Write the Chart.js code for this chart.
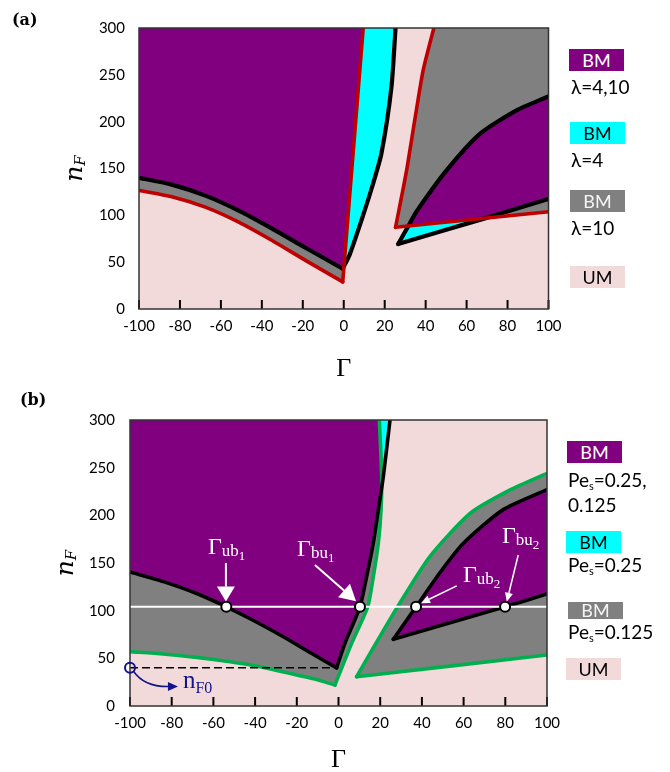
<!DOCTYPE html>
<html>
<head>
<meta charset="utf-8">
<script src="https://cdn.jsdelivr.net/npm/chart.js@4.4.1/dist/chart.umd.min.js"></script>
<style>
body { margin: 0; background: #fff; width: 670px; height: 772px; position: relative; overflow: hidden; font-family: Lato, sans-serif; }
canvas { position: absolute; left: 0; }
#ca { top: 0; }
#cb { top: 386px; }
.key { position: absolute; width: 55px; height: 22px; line-height: 22px; font-size: 18px; text-align: center; }
.lab { position: absolute; font-size: 19px; line-height: 22px; color: #000; white-space: nowrap; }
.lab sub { font-size: 11px; vertical-align: -3px; }
</style>
</head>
<body>
<canvas id="ca" width="670" height="386"></canvas>
<canvas id="cb" width="670" height="386"></canvas>

<div class="key" style="left:569px;top:49px;background:#800080;color:#fff">BM</div>
<div class="lab" style="left:571px;top:76px">λ=4,10</div>
<div class="key" style="left:570px;top:122px;background:#00ffff;color:#000">BM</div>
<div class="lab" style="left:571px;top:149px">λ=4</div>
<div class="key" style="left:570px;top:190px;background:#808080;color:#f4f4f4">BM</div>
<div class="lab" style="left:571px;top:217px">λ=10</div>
<div class="key" style="left:570px;top:266px;background:#f3dada;color:#000">UM</div>

<div class="key" style="left:567px;top:441px;background:#800080;color:#fff">BM</div>
<div class="lab" style="left:568px;top:469px">Pe<sub>s</sub>=0.25,</div>
<div class="lab" style="left:568px;top:494px">0.125</div>
<div class="key" style="left:566px;top:531px;background:#00ffff;color:#000">BM</div>
<div class="lab" style="left:568px;top:554px">Pe<sub>s</sub>=0.25</div>
<div class="key" style="left:568px;top:602px;height:17px;line-height:17px;background:#808080;color:#f4f4f4">BM</div>
<div class="lab" style="left:568px;top:621px">Pe<sub>s</sub>=0.125</div>
<div class="key" style="left:566px;top:658px;background:#f3dada;color:#000">UM</div>

<script>
// axis ticks (both panels)
const xTicks = [-100, -80, -60, -40, -20, 0, 20, 40, 60, 80, 100];
const yTicks = [0, 50, 100, 150, 200, 250, 300];

// panel (a): boundary curves, points are [Γ, nF]
const aBlackLeft = [[-100, 140], [-84, 132.8], [-67.6, 121], [-51.3, 105], [-35, 85.8], [-18.7, 65.4], [-0.5, 43]];
const aBlackRight = [[-0.5, 43], [2.9, 58], [8.7, 95], [13.8, 130], [18.4, 166], [23.3, 237], [25.3, 300]];
const aRedLeft = [[-100, 126.5], [-84, 119.8], [-67.6, 108.7], [-51.3, 92.7], [-35, 73.1], [-18.7, 51.9], [-0.5, 29]];
const aRedRight = [[-0.5, 29], [9.5, 300]];
const aRedWedge = [[44, 300], [38.8, 255], [34.7, 202], [30.7, 148], [25.3, 87.2]];
const aRedFloor = [[25.3, 87.2], [100, 103.8]];
const aLensTop = [[26.6, 69.4], [31.5, 88.5], [35.5, 104], [50.2, 148], [66.5, 187], [84.4, 212], [100, 227]];
const aLensBottom = [[26.6, 69.4], [68.5, 96.5], [100, 117.4]];

// panel (b)
const bBlackLeft = [[-100, 140.6], [-84, 130.5], [-68, 118], [-53.8, 104], [-42.4, 91.5], [-28, 74.5], [-12, 54], [-0.9, 40]];
const bBlackRight = [[-0.9, 40], [3.1, 65.8], [10.3, 104], [13.5, 135.7], [16.7, 170.7], [19.1, 205.7], [21.5, 240.6], [24.7, 300]];
const bGreenLeft = [[-100, 57], [-84, 54.6], [-68, 51], [-52, 46.5], [-42, 43], [-28, 36.5], [-12, 28.5], [-1.7, 22]];
const bGreenRight = [[-1.7, 22], [6.3, 65.8], [14, 104], [16.7, 135.7], [19.1, 170.7], [20.4, 205.7], [20.7, 240.6], [19.6, 300]];
const bCross = [20.6, 227];
const bGreenUpper = [[8.7, 30.7], [18, 66], [28.3, 104], [43.9, 157], [63.1, 202], [82.3, 226.7], [100, 244]];
const bGreenLower = [[8.7, 30.7], [100, 53.5]];
const bLensTop = [[26.3, 70], [37.2, 104], [48.7, 140], [59.9, 170.7], [79, 206], [100, 227]];
const bLensBottom = [[26.3, 70], [79.9, 104], [100, 117.5]];
const bLevel = 104;   // white line
const bNF0 = 40;      // dashed line / n_F0
const bCircles = [[-53.8, 104], [10.3, 104], [37.2, 104], [79.9, 104]];

// Γ labels with arrows (data coords)
const bNotes = [
  { sub: 'ub', idx: '1', at: [-62.6, 159.5], from: [-54, 150], to: [-54, 109.5], head: [15, 9], w: 2 },
  { sub: 'bu', idx: '1', at: [-19.9, 157.4], from: [-11.3, 148], to: [8.4, 110], head: [16, 9], w: 2 },
  { sub: 'ub', idx: '2', at: [59.7, 130], from: [56.7, 126], to: [39.6, 107.8], head: [9, 4], w: 1.5 },
  { sub: 'bu', idx: '2', at: [78.4, 171], from: [86.2, 158.4], to: [80.7, 109.4], head: [9, 4], w: 1.5 }
];

const pink = '#f3dada', purple = '#800080', cyan = '#00ffff', gray = '#808080';
const red = '#c00000', green = '#00b050', navy = '#12128c';

const pts = arr => arr.map(p => ({ x: p[0], y: p[1] }));
const rev = arr => arr.slice().reverse();

function area(points, color) {
    return { data: pts(points), fill: 'shape', backgroundColor: color, borderColor: 'transparent', borderWidth: 0, pointRadius: 0, tension: 0 };
}
// one smooth boundary arm
function stroke(points, color, width) {
    return { data: pts(points), fill: false, borderColor: color, borderWidth: width, borderCapStyle: 'round', borderJoinStyle: 'round', pointRadius: 0, tension: 0.22, clip: 0 };
}
function dashed(points, color, width, dash) {
    return { data: pts(points), fill: false, borderColor: color, borderWidth: width, borderDash: dash, pointRadius: 0, tension: 0 };
}
// first item = bottom layer
function layers(list) {
    list.forEach((d, i) => { d.order = list.length - i; });
    return list;
}

const aData = layers([
    area(aRedLeft.concat(aRedRight.slice(1), [[-100, 300]]), gray),
    area(aBlackLeft.concat([aRedRight[1], [-100, 300]]), purple),
    area(aRedRight.concat(rev(aBlackRight)), cyan),
    area(aRedWedge.concat(aRedFloor.slice(1), [[100, 300]]), gray),
    area(aLensTop.concat(rev(aLensBottom)), purple),
    area([aLensTop[0], aLensTop[1], aLensBottom[1]], cyan),
    stroke(aBlackLeft, '#000', 4.2),
    stroke(aBlackRight, '#000', 4.2),
    stroke(aLensTop, '#000', 4.2),
    stroke(aLensBottom, '#000', 4.2),
    stroke(aRedLeft, red, 3.6),
    stroke(aRedRight, red, 3.6),
    stroke(aRedWedge, red, 3.6),
    stroke(aRedFloor, red, 3.6)
]);

const bData = layers([
    area(bGreenLeft.concat(bGreenRight.slice(1), [[-100, 300]]), gray),
    area(bBlackLeft.concat(bBlackRight.slice(1).filter(p => p[1] < bCross[1]), [bCross],
        bGreenRight.filter(p => p[1] > bCross[1]), [[-100, 300]]), purple),
    area([bCross].concat(bGreenRight.filter(p => p[1] > bCross[1]),
        rev(bBlackRight.filter(p => p[1] > bCross[1]))), cyan),
    area(bGreenUpper.concat(rev(bGreenLower)), gray),
    area(bLensTop.concat(rev(bLensBottom)), purple),
    stroke(bGreenLeft, green, 3.6),
    stroke(bGreenRight, green, 3.6),
    stroke(bGreenUpper, green, 3.6),
    stroke(bGreenLower, green, 3.6),
    stroke(bBlackLeft, '#000', 3.6),
    stroke(bBlackRight, '#000', 3.6),
    stroke(bLensTop, '#000', 3.6),
    stroke(bLensBottom, '#000', 3.6),
    dashed([[-100, bNF0], [bBlackLeft[bBlackLeft.length - 1][0], bNF0]], '#000', 1.5, [8, 4]),
    dashed([[-100, bLevel], [100, bLevel]], '#fff', 2, []),
    { data: pts(bCircles), showLine: false, pointRadius: 5, pointBackgroundColor: '#fff', pointBorderColor: '#000', pointBorderWidth: 2 }
]);

// pink background, inner x ticks and frame
const frame = {
    id: 'frame',
    beforeDatasetsDraw(chart) {
        const { ctx, chartArea: a } = chart;
        ctx.save();
        ctx.fillStyle = pink;
        ctx.fillRect(a.left, a.top, a.right - a.left, a.bottom - a.top);
        ctx.restore();
    },
    afterDatasetsDraw(chart) {
        const { ctx, chartArea: a, scales: { x } } = chart;
        ctx.save();
        ctx.strokeStyle = '#000';
        ctx.lineWidth = 2;
        xTicks.forEach(v => {
            const px = x.getPixelForValue(v);
            ctx.beginPath();
            ctx.moveTo(px, a.bottom);
            ctx.lineTo(px, a.bottom - 9);
            ctx.stroke();
        });
        ctx.strokeStyle = '#333';
        ctx.lineWidth = 1.5;
        ctx.strokeRect(a.left, a.top, a.right - a.left, a.bottom - a.top);
        ctx.restore();
    }
};

function drawParts(ctx, x, y, parts) {
    parts.forEach(([t, font, dy]) => {
        ctx.font = font;
        ctx.fillText(t, x, y + dy);
        x += ctx.measureText(t).width;
    });
}

function arrow(ctx, x1, y1, x2, y2, len, half, w) {
    const ang = Math.atan2(y2 - y1, x2 - x1);
    const bx = x2 - len * Math.cos(ang), by = y2 - len * Math.sin(ang);
    ctx.lineWidth = w;
    ctx.beginPath();
    ctx.moveTo(x1, y1);
    ctx.lineTo(bx, by);
    ctx.stroke();
    ctx.beginPath();
    ctx.moveTo(x2, y2);
    ctx.lineTo(bx + half * Math.sin(ang), by - half * Math.cos(ang));
    ctx.lineTo(bx - half * Math.sin(ang), by + half * Math.cos(ang));
    ctx.closePath();
    ctx.fill();
}

function titles(letter, letterPos, xTitleDy, yTitleX, extra) {
    return {
        id: 'titles',
        afterDraw(chart) {
            const { ctx, chartArea: a } = chart;
            ctx.save();
            ctx.fillStyle = '#000';
            ctx.textAlign = 'left';
            ctx.textBaseline = 'alphabetic';
            ctx.font = 'bold 16px "DejaVu Serif"';
            ctx.fillText(letter, letterPos[0], letterPos[1]);
            ctx.font = '26px "Liberation Serif"';
            ctx.textAlign = 'center';
            ctx.fillText('Γ', (a.left + a.right) / 2, a.bottom + xTitleDy);
            // y title n_F
            ctx.translate(yTitleX, (a.top + a.bottom) / 2);
            ctx.rotate(-Math.PI / 2);
            ctx.textAlign = 'left';
            ctx.textBaseline = 'middle';
            ctx.font = 'italic 25px "DejaVu Serif"';
            const w1 = ctx.measureText('n').width;
            ctx.font = 'italic 15px "DejaVu Serif"';
            const w2 = ctx.measureText('F').width;
            drawParts(ctx, -(w1 + w2) / 2, 0, [['n', 'italic 25px "DejaVu Serif"', 0], ['F', 'italic 15px "DejaVu Serif"', 6]]);
            ctx.restore();
            if (extra) extra(chart);
        }
    };
}

function notesB(chart) {
    const { ctx, scales: { x, y } } = chart;
    const X = v => x.getPixelForValue(v), Y = v => y.getPixelForValue(v);
    ctx.save();
    ctx.textAlign = 'left';
    ctx.textBaseline = 'alphabetic';
    ctx.fillStyle = '#fff';
    ctx.strokeStyle = '#fff';
    bNotes.forEach(n => {
        drawParts(ctx, X(n.at[0]), Y(n.at[1]), [
            ['Γ', '24px "Liberation Serif"', 0],
            [n.sub, '17px "Liberation Serif"', 2],
            [n.idx, '13px "Liberation Serif"', 6]
        ]);
        arrow(ctx, X(n.from[0]), Y(n.from[1]), X(n.to[0]), Y(n.to[1]), n.head[0], n.head[1], n.w);
    });
    // n_F0 marker, curved arrow and label
    ctx.strokeStyle = navy;
    ctx.fillStyle = navy;
    ctx.lineWidth = 2;
    ctx.beginPath();
    ctx.arc(X(-100), Y(bNF0), 5, 0, Math.PI * 2);
    ctx.stroke();
    const sx = X(-98.3), sy = Y(36.5), cx = X(-93), cy = Y(19.5), ex = X(-77), ey = Y(20.5);
    ctx.lineWidth = 1.5;
    ctx.beginPath();
    ctx.moveTo(sx, sy);
    ctx.quadraticCurveTo(cx, cy, ex - 8, ey);
    ctx.stroke();
    ctx.beginPath();
    ctx.moveTo(ex, ey);
    ctx.lineTo(ex - 10, ey - 4.5);
    ctx.lineTo(ex - 10, ey + 4.5);
    ctx.closePath();
    ctx.fill();
    drawParts(ctx, X(-74.6), Y(19), [['n', '25px "Liberation Serif"', 0], ['F0', '16px "Liberation Serif"', 5]]);
    ctx.restore();
}

function makeChart(id, datasets, padding, yPad, plugin) {
    const tickFont = { family: 'Lato', size: 15 };
    return new Chart(document.getElementById(id), {
        type: 'line',
        data: { datasets: datasets },
        options: {
            responsive: false,
            animation: false,
            events: [],
            layout: { padding: padding },
            plugins: { legend: { display: false }, tooltip: { enabled: false } },
            scales: {
                x: {
                    type: 'linear', min: -100, max: 100,
                    grid: { display: false, drawTicks: false },
                    border: { display: false },
                    afterBuildTicks: s => { s.ticks = xTicks.map(v => ({ value: v })); },
                    afterFit: s => { s.height = 50; },
                    ticks: { font: tickFont, color: '#000', padding: 8, maxRotation: 0, autoSkip: false }
                },
                y: {
                    type: 'linear', min: 0, max: 300,
                    grid: { display: false, drawTicks: false },
                    border: { display: false },
                    afterBuildTicks: s => { s.ticks = yTicks.map(v => ({ value: v })); },
                    afterFit: s => { s.width = 60; },
                    ticks: { font: tickFont, color: '#000', padding: yPad, autoSkip: false }
                }
            }
        },
        plugins: [frame, plugin]
    });
}

makeChart('ca', aData, { left: 79, right: 121.5, top: 28, bottom: 27 }, 14,
    titles('(a)', [12, 25], 67, 75));
makeChart('cb', bData, { left: 70, right: 123, top: 34, bottom: 16 }, 15,
    titles('(b)', [20, 19], 61, 66, notesB));
</script>
</body>
</html>
